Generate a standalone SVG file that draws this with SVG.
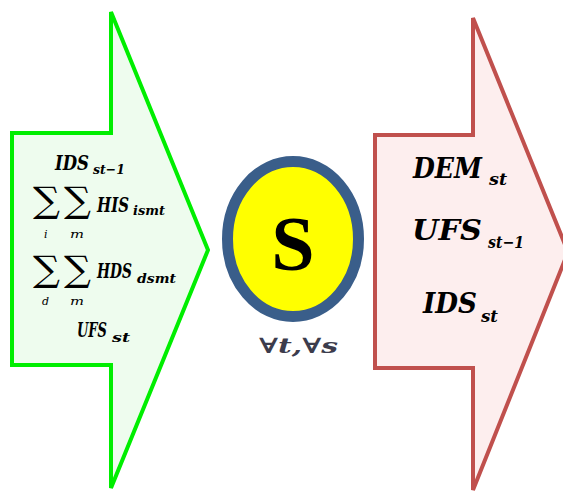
<svg xmlns="http://www.w3.org/2000/svg" width="563" height="491" viewBox="0 0 563 491">
<style>
.m{font-family:"DejaVu Serif",serif;font-weight:bold;font-style:italic;fill:#000}
.sum{font-family:"DejaVu Serif",serif;font-weight:normal;font-style:normal;fill:#000}
.lim{font-family:"DejaVu Serif",serif;font-style:italic;font-size:11px;fill:#000}
</style>
<rect width="563" height="491" fill="#fff"/>
<g id="input-arrow">
<polygon points="12,133 111,133 111,12 208,250 111,488 111,365 12,365" fill="#eefcee" stroke="#00ee00" stroke-width="4" stroke-linejoin="miter"/>
<text class="m" font-size="20"><tspan x="55" y="170" textLength="34" lengthAdjust="spacingAndGlyphs">IDS</tspan><tspan x="93" y="174" font-size="13" textLength="32" lengthAdjust="spacingAndGlyphs">st−1</tspan></text>
<text class="sum" x="33" y="212" font-size="35" textLength="27" lengthAdjust="spacingAndGlyphs">∑</text>
<text class="sum" x="64" y="212" font-size="35" textLength="27" lengthAdjust="spacingAndGlyphs">∑</text>
<text class="lim" x="44" y="238">i</text>
<text class="lim" x="70" y="238" textLength="14" lengthAdjust="spacingAndGlyphs">m</text>
<text class="m" font-size="20"><tspan x="97" y="212" textLength="32" lengthAdjust="spacingAndGlyphs">HIS</tspan><tspan x="133" y="215" font-size="13" textLength="32" lengthAdjust="spacingAndGlyphs">ismt</tspan></text>
<text class="sum" x="33" y="281" font-size="35" textLength="27" lengthAdjust="spacingAndGlyphs">∑</text>
<text class="sum" x="64" y="281" font-size="35" textLength="27" lengthAdjust="spacingAndGlyphs">∑</text>
<text class="lim" x="42" y="305">d</text>
<text class="lim" x="70" y="305" textLength="14" lengthAdjust="spacingAndGlyphs">m</text>
<text class="m" font-size="20"><tspan x="97" y="278" textLength="35" lengthAdjust="spacingAndGlyphs">HDS</tspan><tspan x="137" y="283" font-size="13" textLength="39" lengthAdjust="spacingAndGlyphs">dsmt</tspan></text>
<text class="m" font-size="20"><tspan x="77" y="337" textLength="30" lengthAdjust="spacingAndGlyphs">UFS</tspan><tspan x="112" y="342" font-size="13" textLength="18" lengthAdjust="spacingAndGlyphs">st</tspan></text>
</g>
<g id="output-arrow">
<polygon points="375,135 473,135 473,18 568,252 473,490 473,368 375,368" fill="#fdeeee" stroke="#c0504d" stroke-width="4" stroke-linejoin="miter"/>
<text class="m" font-size="27"><tspan x="413" y="178" textLength="69" lengthAdjust="spacingAndGlyphs">DEM</tspan><tspan x="489" y="185" font-size="17" textLength="18" lengthAdjust="spacingAndGlyphs">st</tspan></text>
<text class="m" font-size="27"><tspan x="412" y="240" textLength="70" lengthAdjust="spacingAndGlyphs">UFS</tspan><tspan x="488" y="248" font-size="17" textLength="36" lengthAdjust="spacingAndGlyphs">st−1</tspan></text>
<text class="m" font-size="27"><tspan x="423" y="313" textLength="54" lengthAdjust="spacingAndGlyphs">IDS</tspan><tspan x="481" y="322" font-size="17" textLength="17" lengthAdjust="spacingAndGlyphs">st</tspan></text>
</g>
<g id="solver">
<ellipse cx="293" cy="239" rx="65.5" ry="77.5" fill="#ffff00" stroke="#3a5e8a" stroke-width="11"/>
<text x="293" y="270" text-anchor="middle" font-family="Liberation Serif,serif" font-weight="bold" font-size="78" fill="#000">S</text>
<text x="259" y="353" font-family="DejaVu Serif,serif" font-weight="bold" font-style="italic" font-size="21" fill="#3c3c4c" textLength="79" lengthAdjust="spacingAndGlyphs">∀t,∀s</text>
</g>
<g id="connectors"></g>
</svg>
